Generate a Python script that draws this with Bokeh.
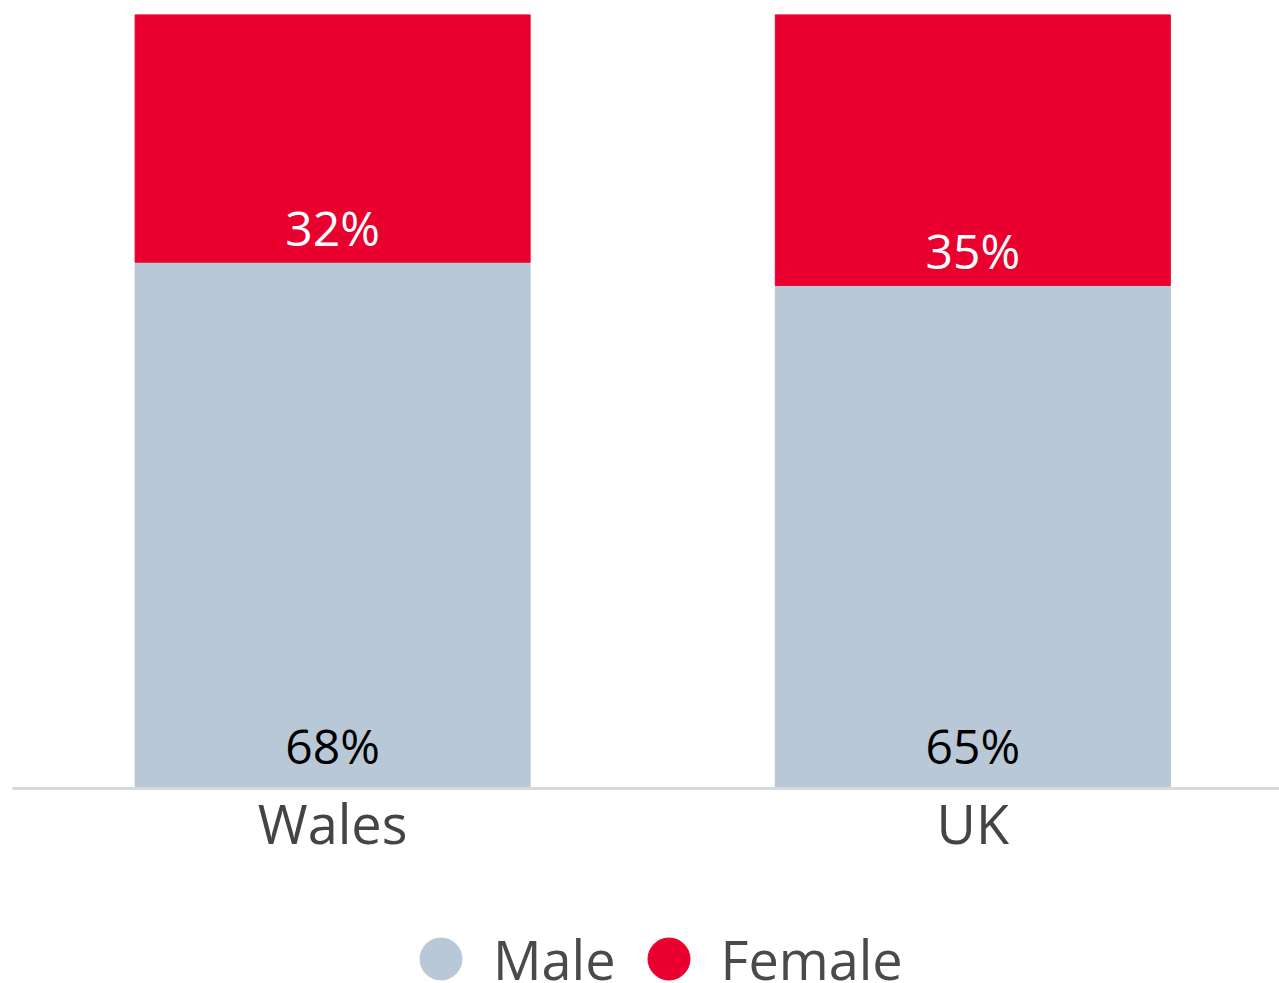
from bokeh.plotting import figure
from bokeh.layouts import column
from bokeh.models import Range1d, FixedTicker, Legend, LegendItem, ColumnDataSource, LabelSet
from bokeh.core.properties import value
from bokeh.embed import file_html
from bokeh.resources import INLINE

categories = ["Wales", "UK"]
male = [68, 65]
female = [32, 35]
series_names = ["Male", "Female"]
colors = ["#B8C8D7", "#EA002E"]

FONT = "Open Sans"

x = [i + 0.5 for i in range(len(categories))]
src = ColumnDataSource(dict(
    x=x, male=male, female=female,
    top=[m + f for m, f in zip(male, female)],
    male_lbl=[f"{v}%" for v in male],
    female_lbl=[f"{v}%" for v in female],
    zero=[0] * len(categories),
))

p = figure(width=1279, height=888, output_backend="svg", toolbar_location=None,
           x_range=Range1d(0, 1.979), y_range=Range1d(0, 100),
           min_border_left=12, min_border_right=0, min_border_top=14, min_border_bottom=100)
p.outline_line_color = None
p.grid.grid_line_color = None
p.yaxis.visible = False
p.background_fill_color = "white"
p.border_fill_color = "white"

p.vbar(x="x", bottom=0, top="male", width=0.617, color=colors[0], source=src)
p.vbar(x="x", bottom="male", top="top", width=0.617, color=colors[1], source=src)

p.add_layout(LabelSet(x="x", y="zero", text="male_lbl", source=src, text_align="center",
                      text_baseline="alphabetic", y_offset=25, text_color="#000000",
                      text_font=value(FONT), text_font_size="48px"))
p.add_layout(LabelSet(x="x", y="male", text="female_lbl", source=src, text_align="center",
                      text_baseline="alphabetic", y_offset=16, text_color="#FFFFFF",
                      text_font=value(FONT), text_font_size="48px"))

ax = p.xaxis[0]
ax.ticker = FixedTicker(ticks=x)
ax.major_label_overrides = {xi: c for xi, c in zip(x, categories)}
ax.major_tick_line_color = None
ax.minor_tick_line_color = None
ax.axis_line_color = "#D9D9D9"
ax.axis_line_width = 3
ax.major_label_text_font = FONT
ax.major_label_text_font_size = "54px"
ax.major_label_text_color = "#444444"
ax.major_label_standoff = -9

# legend strip below the chart
lg = figure(width=1279, height=95, output_backend="svg", toolbar_location=None,
            x_range=Range1d(0, 1), y_range=Range1d(0, 1),
            min_border=0, min_border_left=0, min_border_right=0,
            min_border_top=0, min_border_bottom=0)
lg.axis.visible = False
lg.grid.grid_line_color = None
lg.outline_line_color = None
lg.background_fill_color = "white"
lg.border_fill_color = "white"
lm = lg.scatter(x="x", y="zero", size=0, marker="circle", color=colors[0], source=src)
lf = lg.scatter(x="x", y="zero", size=0, marker="circle", color=colors[1], source=src)
legend = Legend(items=[LegendItem(label=series_names[0], renderers=[lm]),
                       LegendItem(label=series_names[1], renderers=[lf])],
                orientation="horizontal", location=(376, -28),
                glyph_width=105, glyph_height=105, label_standoff=-8, spacing=-2,
                padding=0, margin=0, border_line_color=None, background_fill_alpha=0,
                label_text_font=FONT, label_text_font_size="54px",
                label_text_color="#4A4A4A", label_text_baseline="middle")
lg.add_layout(legend, "center")

layout = column(p, lg, spacing=0)
open("out.html", "w").write(file_html(layout, INLINE))
